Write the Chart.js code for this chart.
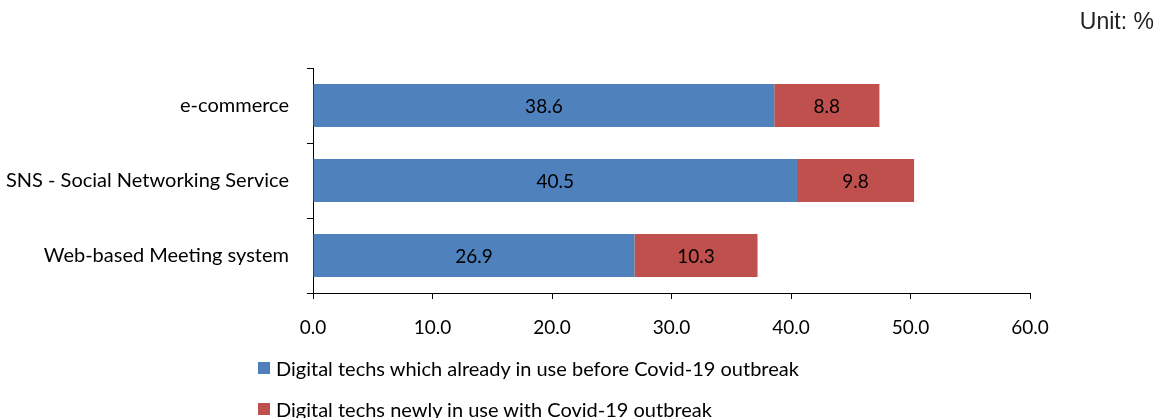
<!DOCTYPE html>
<html>
<head>
<meta charset="utf-8">
<script src="https://cdn.jsdelivr.net/npm/chart.js@4.4.1/dist/chart.umd.min.js"></script>
<style>
  html, body { margin: 0; padding: 0; background: #fff; }
  #wrap { position: relative; width: 1166px; height: 418px; overflow: hidden; }
  #unit { position: absolute; right: 12px; top: 8px; font: 23px "Liberation Sans", Arial, sans-serif; color: #222; }
  #legend { position: absolute; left: 258px; top: 356px; font: 20px Lato, "Open Sans", sans-serif; color: #000; }
  #legend .item { display: flex; align-items: center; height: 24px; margin-bottom: 17px; }
  #legend .box { width: 12px; height: 12px; margin-right: 6px; }
</style>
</head>
<body>
<div id="wrap">
  <canvas id="c" width="1166" height="418"></canvas>
  <div id="unit">Unit: %</div>
  <div id="legend"></div>
</div>
<script>
const categories = ['e-commerce', 'SNS - Social Networking Service', 'Web-based Meeting system'];
const beforeOutbreak = [38.6, 40.5, 26.9];
const newlyInUse = [8.8, 9.8, 10.3];
const seriesNames = [
  'Digital techs which already in use before Covid-19 outbreak',
  'Digital techs newly in use with Covid-19 outbreak'
];
const seriesColors = ['#4F81BD', '#C0504D'];
const xTicks = [0, 10, 20, 30, 40, 50, 60];

const FONT = 'Lato, "Open Sans", sans-serif';

// Writes each segment's value in the middle of its bar
const segmentLabels = {
  id: 'segmentLabels',
  afterDatasetsDraw(chart) {
    const ctx = chart.ctx;
    ctx.save();
    ctx.font = '19px ' + FONT;
    ctx.fillStyle = '#000';
    ctx.textAlign = 'center';
    ctx.textBaseline = 'middle';
    chart.data.datasets.forEach((ds, i) => {
      chart.getDatasetMeta(i).data.forEach((bar, j) => {
        const x = (bar.x + bar.base) / 2;
        ctx.fillText(ds.data[j].toFixed(1), x, bar.y + 1);
      });
    });
    ctx.restore();
  }
};

const chart = new Chart(document.getElementById('c'), {
  type: 'bar',
  data: {
    labels: categories,
    datasets: [
      { label: seriesNames[0], data: beforeOutbreak, backgroundColor: seriesColors[0] },
      { label: seriesNames[1], data: newlyInUse, backgroundColor: seriesColors[1] }
    ]
  },
  options: {
    indexAxis: 'y',
    responsive: false,
    animation: false,
    layout: { padding: { top: 68, right: 136, bottom: 75, left: 0 } },
    datasets: { bar: { categoryPercentage: 1, barPercentage: 0.573 } },
    plugins: { legend: { display: false }, tooltip: { enabled: false } },
    scales: {
      x: {
        stacked: true,
        min: 0, max: 60,
        afterBuildTicks(scale) { scale.ticks = xTicks.map(v => ({ value: v })); },
        afterFit(scale) { scale.height = 50; },
        border: { color: '#000', width: 1 },
        grid: { drawOnChartArea: false, tickLength: 6, color: '#000' },
        ticks: {
          padding: 17,
          color: '#000',
          font: { family: FONT, size: 19 },
          callback: v => Number(v).toFixed(1)
        }
      },
      y: {
        stacked: true,
        afterFit(scale) { scale.width = 313; },
        border: { color: '#000', width: 1 },
        grid: { offset: true, drawOnChartArea: false, tickLength: 6, color: '#000' },
        ticks: {
          padding: 18,
          color: '#000',
          font: { family: FONT, size: 20 }
        }
      }
    }
  },
  plugins: [segmentLabels]
});

// Legend as real text, one series per line
const legend = document.getElementById('legend');
seriesNames.forEach((name, i) => {
  const item = document.createElement('div');
  item.className = 'item';
  const box = document.createElement('span');
  box.className = 'box';
  box.style.background = seriesColors[i];
  const txt = document.createElement('span');
  txt.textContent = name;
  item.appendChild(box);
  item.appendChild(txt);
  legend.appendChild(item);
});
</script>
</body>
</html>
